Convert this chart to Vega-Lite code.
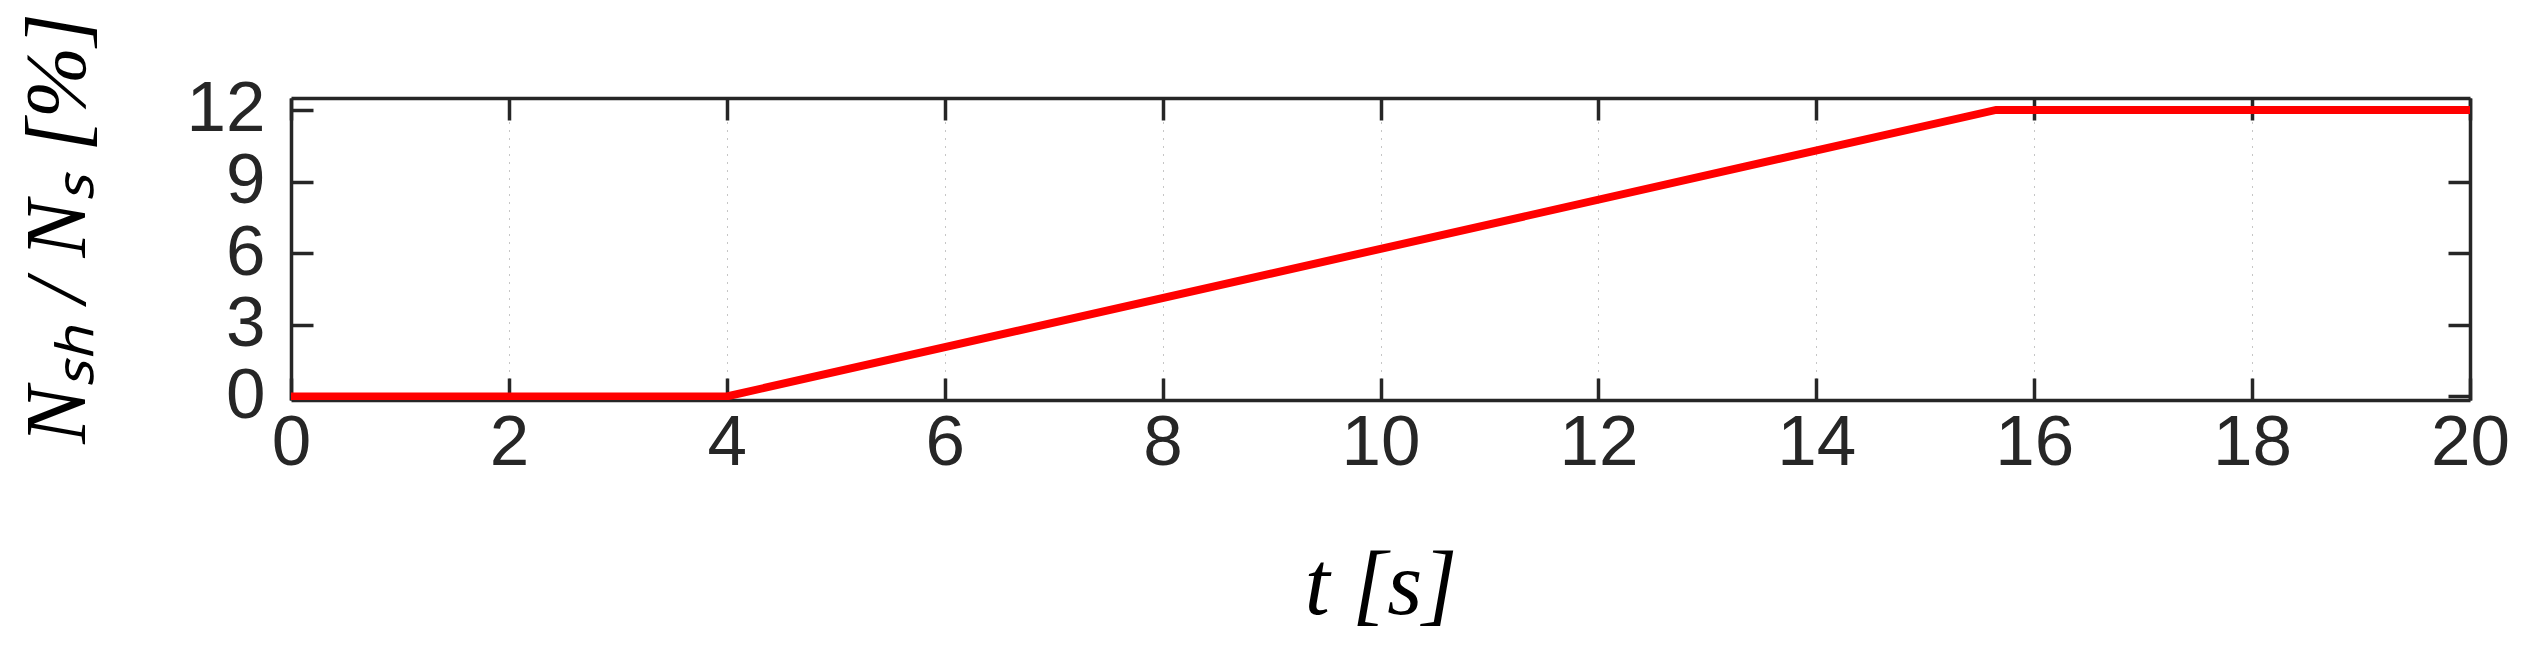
{
  "$schema": "https://vega.github.io/schema/vega-lite/v6.json",
  "autosize": {"type": "none"},
  "width": 2179,
  "height": 302,
  "padding": {"left": 291, "top": 98, "right": 54, "bottom": 261},
  "background": "white",
  "config": {
    "view": {"stroke": null},
    "axis": {
      "domainColor": "#262626",
      "domainWidth": 3.5,
      "tickColor": "#262626",
      "tickWidth": 3.5,
      "tickSize": -22,
      "labelColor": "#262626",
      "labelFont": "Liberation Sans",
      "labelFontSize": 71,
      "titleColor": "#000000",
      "titleFont": "Liberation Serif",
      "titleFontStyle": "italic",
      "titleFontWeight": "normal"
    }
  },
  "data": {
    "values": [
      {"t": 0, "v": 0},
      {"t": 4, "v": 0},
      {"t": 15.65, "v": 12},
      {"t": 20, "v": 12}
    ]
  },
  "layer": [
    {
      "mark": {"type": "line", "color": "#FF0000", "strokeWidth": 8, "clip": true},
      "encoding": {
        "x": {
          "field": "t", "type": "quantitative",
          "scale": {"domain": [0, 20], "nice": false, "zero": false},
          "axis": {
            "orient": "bottom",
            "values": [0, 2, 4, 6, 8, 10, 12, 14, 16, 18, 20],
            "labelPadding": 30,
            "labelFlush": false,
            "grid": true,
            "gridColor": "#000000",
            "gridDash": [1, 7],
            "gridWidth": 1,
            "gridOpacity": 0.45,
            "title": "t [s]",
            "titleFontSize": 90,
            "titlePadding": 64
          }
        },
        "y": {
          "field": "v", "type": "quantitative",
          "scale": {"domain": [-0.15, 12.5], "nice": false, "zero": false},
          "axis": {
            "orient": "left",
            "values": [0, 3, 6, 9, 12],
            "labelPadding": 48,
            "labelFlush": false,
            "grid": false,
            "title": "Nₛₕ / Nₛ [%]",
            "titleFontSize": 86,
            "titlePadding": 84,
            "titleY": 130
          }
        }
      }
    },
    {
      "mark": {"type": "line", "opacity": 0, "strokeWidth": 0},
      "encoding": {
        "x": {
          "field": "t", "type": "quantitative",
          "axis": {
            "orient": "top",
            "values": [0, 2, 4, 6, 8, 10, 12, 14, 16, 18, 20],
            "labels": false,
            "grid": false,
            "title": null
          }
        },
        "y": {
          "field": "v", "type": "quantitative",
          "axis": {
            "orient": "right",
            "values": [0, 3, 6, 9, 12],
            "labels": false,
            "grid": false,
            "title": null
          }
        }
      }
    }
  ],
  "resolve": {"axis": {"x": "independent", "y": "independent"}}
}
